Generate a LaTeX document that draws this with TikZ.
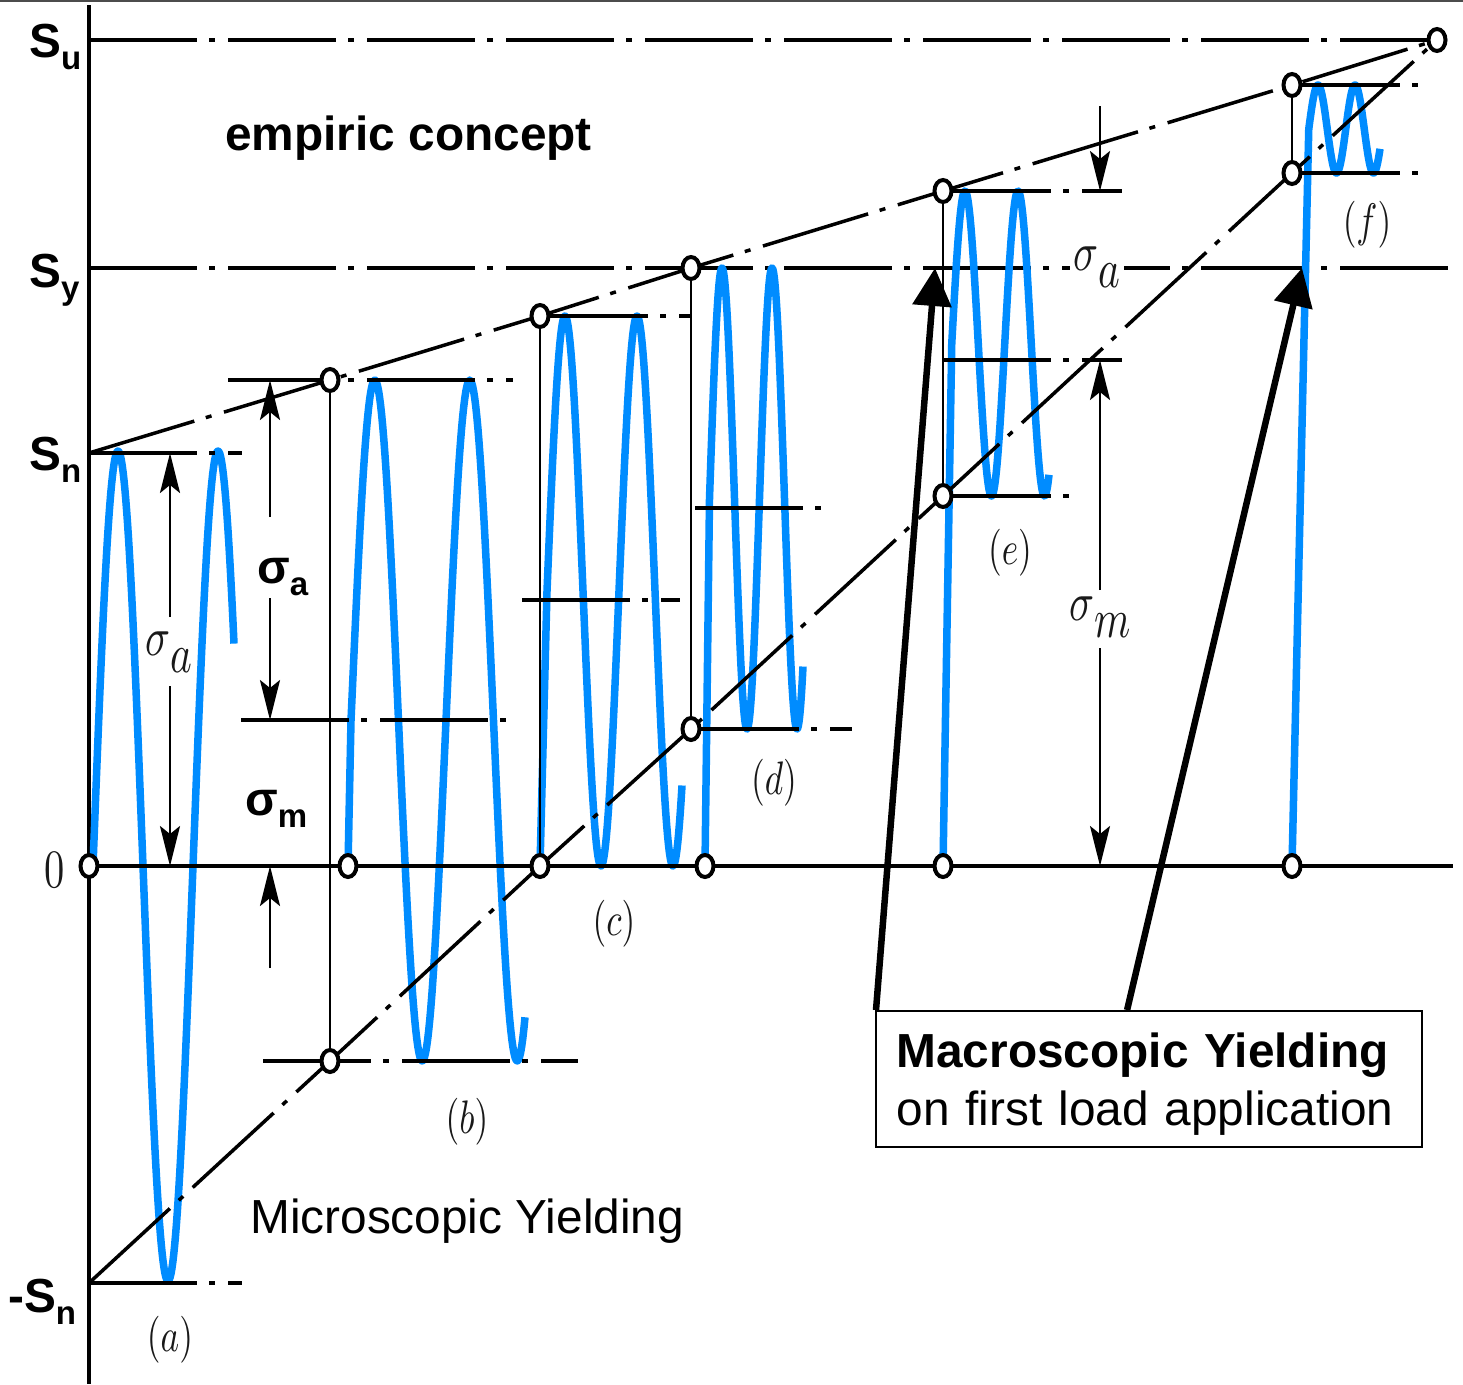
\documentclass[tikz,border=0pt]{standalone}
\usepackage[no-math]{fontspec}
\setmainfont{Liberation Sans}
\usetikzlibrary{arrows.meta,calc,shapes.geometric}
\definecolor{sigblue}{RGB}{0,140,255}
\newcommand{\seriflab}[1]{\scalebox{3.525}[4.7]{#1}}
\newcommand{\serifgreek}[1]{\scalebox{4.125}[5.5]{#1}}
\newcommand{\bsub}[2]{#1\raisebox{-12pt}{\fontsize{33}{33}\selectfont #2}}
\tikzset{
  big/.style={font=\fontsize{47.8}{58}\selectfont,inner sep=0pt},
  lvl/.style={line width=4.5pt,dash pattern=on 108pt off 12pt on 6pt off 13pt},
  cyc/.style={line width=4pt,dash pattern=on 108pt off 12pt on 6pt off 13pt},
  env/.style={line width=3.5pt,dash pattern=on 110pt off 12pt on 6pt off 13pt},
  stem/.style={line width=2.5pt},
  sig/.style={line width=7.5pt,sigblue,line join=round},
  dim/.style={line width=2.5pt,-{Stealth[length=40pt,width=20pt,inset=8pt]}},
  ar/.style={line width=6.5pt,-{Triangle[length=38pt,width=38pt]}},
  ring/.style={ellipse,draw,line width=4pt,fill=white,inner sep=0pt,
               minimum width=17pt,minimum height=22pt},
  tag/.style={text=black!90,inner sep=0pt},
  box/.style={draw,line width=2pt,align=left,text width=505pt,inner xsep=20.5pt,
              inner ysep=10pt,minimum height=136pt,font=\fontsize{47.8}{58}\selectfont},
}

\begin{document}
\begin{tikzpicture}[x=1pt,y=-1pt]
  \useasboundingbox (0,0) rectangle (1463,1384);
  \draw[black!70,line width=1.5pt] (0,0.75) -- (1463,0.75);

  % levels and cycle points
  \coordinate (sn) at (89,453);   \coordinate (msn) at (89,1283);
  \coordinate (su) at (1437,40);
  \coordinate (z1) at (89,866);   \coordinate (z2) at (348,866);
  \coordinate (z3) at (540,866);  \coordinate (z4) at (705,866);
  \coordinate (z5) at (943,866);  \coordinate (z6) at (1292,866);
  \coordinate (ub) at (330,380);  \coordinate (lb) at (330,1061);
  \coordinate (uc) at (540,316);
  \coordinate (ud) at (691,268);  \coordinate (ld) at (691,729);
  \coordinate (ue) at (943,191);  \coordinate (le) at (943,496);
  \coordinate (uf) at (1292,85);  \coordinate (lf) at (1292,173);

  \draw[line width=3.5pt] (89,5) -- (89,1384);
  \draw[lvl] (89,40) -- (su);
  \draw[lvl] (89,268) -- (1453,268);

  % stress cycles
  \foreach \n/\xz/\per/\mid/\amp/\xe in {1/93/100/866/415/234, 2/351/95/720.5/340.5/525,
      3/547/72/591/275/682, 4/709.5/50/498.5/230.5/803,
      5/951.75/53/343.5/152.5/1049, 6/1308.75/37/129/44/1380}
    \draw[sig] (z\n) -- (\xz,\mid) -- plot[domain=\xz:\xe,samples=160]
      (\x,{\mid-\amp*sin(360/\per*(\x-\xz))});

  \draw[line width=4pt] (z1) -- (1453,866);
  \foreach \xa/\yy/\xb in {89/453/242, 89/1283/242, 228/380/513, 241/720/510, 263/1061/578,
      540/316/690, 522/600/680, 695/508/822, 691/729/852, 943/191/1122, 943/360/1122,
      943/496/1072, 1292/85/1422, 1292/173/1422}
    \draw[cyc] (\xa,\yy) -- (\xb,\yy);
  \draw[stem] (ub) -- (lb);
  \draw[stem] (uc) -- (z3);
  \draw[stem] (ud) -- (ld);
  \draw[stem] (ue) -- (le);
  \draw[stem] (uf) -- (lf);
  \draw[env] (sn) -- (ub) -- (uc) -- (ud) -- (ue) -- (uf) -- (su);
  \draw[env] (msn) -- (lb) -- (z3) -- (ld) -- (le) -- (lf) -- (su);

  % dimensions
  \draw[dim] (170,617) -- (170,453);
  \draw[dim] (170,686) -- (170,866);
  \node[tag] (sa1) at (169,652) {\serifgreek{$\sigma$\raisebox{-3.1pt}{$a$}}};
  \draw[dim] (270,517) -- (270,380);
  \draw[dim] (270,598) -- (270,720);
  \draw[dim] (270,968) -- (270,866);
  \node[big,anchor=base west] (sa2) at (257,583) {\bfseries\bsub{σ}{a}};
  \node[big,anchor=base west] (sm2) at (245,815) {\bfseries\bsub{σ}{m}};
  \draw[dim] (1100,106) -- (1100,191);
  \node[tag,fill=white,inner sep=4pt] (sa5) at (1097,267)
    {\serifgreek{$\sigma$\raisebox{-3.1pt}{$a$}}};
  \draw[dim] (1100,590) -- (1100,360);
  \draw[dim] (1100,648) -- (1100,866);
  \node[tag] (sm5) at (1100,617) {\serifgreek{$\sigma$\raisebox{-3.1pt}{$m$}}};

  \foreach \p in {z1,z2,z3,z4,z5,z6,ub,lb,uc,ud,ld,ue,le,uf,lf,su}
    \node[ring] at (\p) {};

  % labels
  \node[big,anchor=base west] (lsu) at (29,57) {\bfseries\bsub{S}{u}};
  \node[big,anchor=base west] (lsy) at (29,287) {\bfseries\bsub{S}{y}};
  \node[big,anchor=base west] (lsn) at (29,470) {\bfseries\bsub{S}{n}};
  \node[big,anchor=base west] (lmsn) at (8,1312) {\bfseries\bsub{-S}{n}};
  \node[tag] (l0) at (55,870) {\scalebox{4.05}[5.4]{$0$}};
  \node[tag] (ta) at (170,1340) {\seriflab{$(a)$}};
  \node[tag] (tb) at (467,1122) {\seriflab{$(b)$}};
  \node[tag] (tc) at (614,924) {\seriflab{$(c)$}};
  \node[tag] (td) at (774,783) {\seriflab{$(d)$}};
  \node[tag] (te) at (1010,553) {\seriflab{$(e)$}};
  \node[tag] (tf) at (1367,225) {\seriflab{$(f)$}};
  \node[big,anchor=base west] (emp) at (225,150) {\bfseries empiric concept};
  \node[big,anchor=base west] (mic) at (250,1233) {Microscopic Yielding};

  % macroscopic yielding
  \node[box] (macro) at (1149,1079)
    {\rule{0pt}{45pt}\textbf{Macroscopic Yielding}\\on first load application};
  \coordinate (y1) at (935,268);
  \coordinate (y2) at (1302,268);
  \draw[ar] ($(macro.north west)+(1,0)$) -- (y1);
  \draw[ar] ($(macro.north west)!.46!(macro.north east)$) -- (y2);
\end{tikzpicture}
\end{document}
